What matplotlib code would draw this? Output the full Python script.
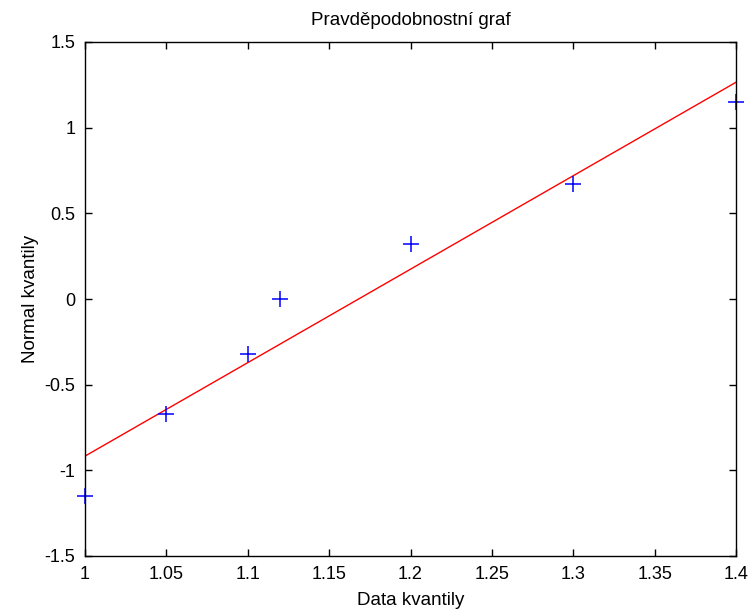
import matplotlib
matplotlib.use("Agg")
import matplotlib.pyplot as plt

data_x = [1.0, 1.05, 1.1, 1.12, 1.2, 1.3, 1.4]
normal_q = [-1.150, -0.674, -0.319, 0.0, 0.319, 0.674, 1.150]
line_x = [1.0, 1.4]
line_y = [-0.917, 1.265]
xticks = [1, 1.05, 1.1, 1.15, 1.2, 1.25, 1.3, 1.35, 1.4]
xticklabels = ["1", "1.05", "1.1", "1.15", "1.2", "1.25", "1.3", "1.35", "1.4"]
yticks = [-1.5, -1, -0.5, 0, 0.5, 1, 1.5]
yticklabels = ["-1.5", "-1", "-0.5", "0", "0.5", "1", "1.5"]

plt.rcParams['font.family'] = ['Liberation Sans', 'DejaVu Sans']
fig = plt.figure(figsize=(7.5, 6.1), dpi=100)
ax = fig.add_axes([85/750, 54/610, (736-85)/750, (556-42)/610])
ax.plot(line_x, line_y, color='red', lw=1)
ax.plot(data_x, normal_q, '+', color='blue', markersize=11, mew=1.1, clip_on=False)
ax.set_xlim(1, 1.4)
ax.set_ylim(-1.5, 1.5)
ax.set_xticks(xticks)
ax.set_xticklabels(xticklabels)
ax.set_yticks(yticks)
ax.set_yticklabels(yticklabels)
ax.tick_params(direction='in', top=True, right=True, labelsize=13, length=5, width=1, pad=7)
for s in ax.spines.values():
    s.set_linewidth(1)
ax.set_title("Pravděpodobnostní graf", fontsize=13.5, pad=12)
ax.set_xlabel("Data kvantily", fontsize=13.5, labelpad=7)
ax.set_ylabel("Normal kvantily", fontsize=13.5, labelpad=4)
fig.savefig("out.png", dpi=100)
